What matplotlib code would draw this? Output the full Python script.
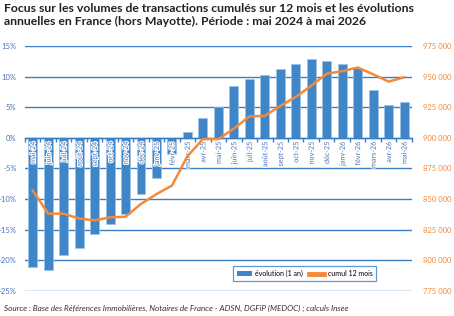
import matplotlib

matplotlib.use("Agg")
import matplotlib.pyplot as plt
import matplotlib.patheffects as pe
from matplotlib.lines import Line2D
from matplotlib.patches import Patch
from matplotlib.ticker import FuncFormatter
import numpy as np

plt.rcParams["font.family"] = ["Lato", "DejaVu Sans"]

months = ["mai-24", "juin-24", "juil-24", "août-24", "sept-24", "oct-24", "nov-24",
          "déc-24", "janv-25", "févr-25", "mars-25", "avr-25", "mai-25", "juin-25",
          "juil-25", "août-25", "sept-25", "oct-25", "nov-25", "déc-25", "janv-26",
          "févr-26", "mars-26", "avr-26", "mai-26"]
evolution = [-21.1, -21.6, -19.2, -18.0, -15.7, -14.1, -12.5, -9.2, -6.6, -2.7,
             0.9, 3.3, 5.0, 8.4, 9.6, 10.2, 11.3, 12.0, 12.9, 12.6, 12.0, 11.5,
             7.9, 5.4, 5.8]
cumul = [857000, 838000, 838000, 834000, 832500, 835000, 835500, 846000, 854000,
         861000, 885000, 899000, 899000, 907500, 917500, 918000, 926000, 933500,
         942500, 952500, 954500, 957500, 952000, 946000, 949500]

BLUE = "#3F86C8"
GRID = "#3B7DC6"
TXT_BLUE = "#4A72B8"
ORANGE = "#F5893A"

fig = plt.figure(figsize=(4.54, 3.16), dpi=100)
ax = fig.add_axes([0.055, 0.080, 0.852, 0.774])
ax2 = ax.twinx()

x = np.arange(len(months))
ax.bar(x, evolution, width=0.58, color=BLUE, edgecolor="#9CC3E6", linewidth=0.5, zorder=2)
ax.set_xlim(-0.5, len(months) - 0.5)
ax.set_ylim(-25, 15)
ax.set_yticks(np.arange(-25, 16, 5))
ax.yaxis.set_major_formatter(FuncFormatter(lambda v, p: f"{v:.0f}%"))
ax.grid(axis="y", color=GRID, linewidth=1.0, zorder=0)
ax.set_axisbelow(True)
ax.tick_params(axis="y", length=0, pad=6, labelsize=5.5, labelcolor=TXT_BLUE)

# category axis sits on the 0 line
ax.spines["bottom"].set_position(("data", 0))
ax.spines["bottom"].set_color(GRID)
ax.spines["bottom"].set_linewidth(1.0)
for s in ["top", "left", "right"]:
    ax.spines[s].set_visible(False)
ax.set_xticks(np.arange(-0.5, len(months), 1.0))
ax.set_xticklabels([])
ax.tick_params(axis="x", direction="out", length=3, color=GRID, width=1.0)

for xi, lab in zip(x, months):
    ax.text(xi, -0.6, lab, rotation=90, ha="center", va="top", fontsize=5.2,
            color=TXT_BLUE, zorder=5,
            path_effects=[pe.withStroke(linewidth=1.5, foreground="white")])

ax2.plot(x, cumul, color=ORANGE, linewidth=1.8, zorder=3)
ax2.set_ylim(775000, 975000)
ax2.set_yticks(np.arange(775000, 975001, 25000))
ax2.yaxis.set_major_formatter(FuncFormatter(lambda v, p: f"{v:,.0f}".replace(",", " ")))
ax2.tick_params(axis="y", length=0, pad=8, labelsize=5.5, labelcolor=ORANGE)
for s in ["top", "left", "right", "bottom"]:
    ax2.spines[s].set_visible(False)

handles = [Patch(facecolor=BLUE, edgecolor="none"),
           Line2D([0], [0], color=ORANGE, linewidth=3.5)]
leg = ax.legend(handles, ["évolution (1 an)", "cumul 12 mois"], ncol=2,
                loc="lower right", bbox_to_anchor=(0.917, 0.025), fontsize=5.0,
                frameon=True, fancybox=False, handlelength=2.2, handleheight=0.8,
                columnspacing=0.8, handletextpad=0.5, borderpad=0.55)
leg.get_frame().set_edgecolor(GRID)
leg.get_frame().set_linewidth(0.9)
leg.set_zorder(10)

fig.text(0.009, 0.990, "Focus sur les volumes de transactions cumulés sur 12 mois et les évolutions\n"
         "annuelles en France (hors Mayotte). Période : mai 2024 à mai 2026",
         ha="left", va="top", fontsize=8.8, fontweight="bold", color="#222222",
         linespacing=1.2)
fig.text(0.009, 0.025, "Source : Base des Références Immobilières, Notaires de France - ADSN, "
         "DGFiP (MEDOC) ; calculs Insee", ha="left", va="center", fontsize=5.9,
         style="italic", color="#333333")

fig.savefig("out.png", dpi=100)
